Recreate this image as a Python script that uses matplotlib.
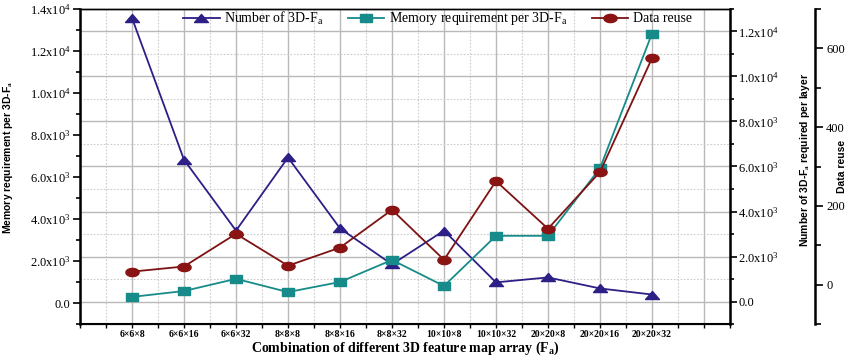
import numpy as np
import matplotlib
matplotlib.use("Agg")
import matplotlib.pyplot as plt
from matplotlib.path import Path
from matplotlib import font_manager as fm

categories = ["6×6×8", "6×6×16", "6×6×32", "8×8×8", "8×8×16", "8×8×32",
              "10×10×8", "10×10×32", "20×20×8", "20×20×16", "20×20×32"]
num_3dfa = [12600, 6300, 3150, 6400, 3250, 1650, 3150, 850, 1070, 580, 310]
memory_req = [290, 570, 1150, 520, 1000, 2050, 810, 3200, 3200, 6420, 12830]
data_reuse = [33, 46, 129, 48, 94, 190, 63, 263, 142, 286, 575]

left_ticks = [0, 2000, 4000, 6000, 8000, 10000, 12000, 14000]
left_labels = ["0.0", "2.0x10$^3$", "4.0x10$^3$", "6.0x10$^3$", "8.0x10$^3$",
               "1.0x10$^4$", "1.2x10$^4$", "1.4x10$^4$"]
r1_ticks = [0, 2000, 4000, 6000, 8000, 10000, 12000]
r1_labels = ["0.0", "2.0x10$^3$", "4.0x10$^3$", "6.0x10$^3$", "8.0x10$^3$",
             "1.0x10$^4$", "1.2x10$^4$"]
r2_ticks = [0, 200, 400, 600]

names = set(f.name for f in fm.fontManager.ttflist)
serif = "Liberation Serif" if "Liberation Serif" in names else "DejaVu Serif"
narrow = "Liberation Sans Narrow" if "Liberation Sans Narrow" in names else (
    "Liberation Sans" if "Liberation Sans" in names else "DejaVu Sans")

plt.rcParams["font.family"] = [serif, "DejaVu Sans"]
plt.rcParams["mathtext.fontset"] = "custom"
plt.rcParams["mathtext.rm"] = serif
plt.rcParams["mathtext.it"] = serif + ":italic"
plt.rcParams["mathtext.bf"] = serif + ":bold"

navy = "#2c1f86"
teal = "#178b89"
red = "#7e1212"

tri = Path([(-1, -0.58), (1, -0.58), (0, 0.58), (-1, -0.58)],
           [Path.MOVETO, Path.LINETO, Path.LINETO, Path.CLOSEPOLY])
sq = Path([(-1, -0.62), (1, -0.62), (1, 0.62), (-1, 0.62), (-1, -0.62)],
          [Path.MOVETO, Path.LINETO, Path.LINETO, Path.LINETO, Path.CLOSEPOLY])
th = np.linspace(0, 2 * np.pi, 41)
ell = Path(np.column_stack([np.cos(th), 0.62 * np.sin(th)]), closed=True)

fig = plt.figure(figsize=(8.5, 3.56), dpi=100)
rect = [80 / 850, 1 - 324 / 356, 650 / 850, 315 / 356]
ax = fig.add_axes(rect)          # memory (left)
ax1 = ax.twinx()                 # number of 3D-Fa (right)
ax2 = ax.twinx()                 # data reuse (far right)

ax1.set_zorder(0)
ax.set_zorder(1)
ax2.set_zorder(2)
ax.patch.set_visible(False)
ax2.patch.set_visible(False)
ax1.patch.set_visible(True)
ax1.patch.set_facecolor("white")

x = np.arange(1, len(categories) + 1)

l1, = ax1.plot(x, num_3dfa, color=navy, lw=1.3, marker=tri, ms=10,
               mfc=navy, mec=navy, label="Number of 3D-F$_\\mathrm{a}$")
l2, = ax.plot(x, memory_req, color=teal, lw=1.3, marker=sq, ms=8.5,
              mfc=teal, mec=teal, label="Memory requirement per 3D-F$_\\mathrm{a}$")
l3, = ax2.plot(x, data_reuse, color=red, lw=1.3, marker=ell, ms=9.5,
               mfc="#8a1414", mec="#8a1414", label="Data reuse")

# x axis
ax.set_xlim(0, 12.5)
ax.set_xticks(np.arange(0, 13))
ax.set_xticklabels([""] + categories + [""], fontsize=7, fontweight="bold")
ax.set_xticks(np.arange(0.5, 12.6, 1.0), minor=True)
ax.tick_params(axis="x", which="both", direction="out", length=3, width=1, pad=1)
ax.set_xlabel("Combination of different 3D feature map array (F$_\\mathbf{a}$)",
              fontsize=10, fontweight="bold", labelpad=1)

# left axis
ax.set_ylim(-1000, 14000)
ax.set_yticks(left_ticks)
ax.set_yticklabels(left_labels, fontsize=9)
ax.set_yticks(np.arange(-1000, 14001, 2000), minor=True)
ax.tick_params(axis="y", which="major", direction="out", length=5, width=1.2, pad=2)
ax.tick_params(axis="y", which="minor", direction="out", length=3, width=1.2)
ax.set_ylabel("Memory requirement per 3D-F$_\\mathbf{a}$", family=narrow,
              fontsize=7.5, fontweight="bold")
ax.yaxis.set_label_coords(-0.1, 0.53)

# right axis 1
ax1.set_ylim(-1000, 13000)
ax1.set_yticks(r1_ticks)
ax1.set_yticklabels(r1_labels, fontsize=9)
ax1.set_yticks(np.arange(-1000, 13001, 2000), minor=True)
ax1.tick_params(axis="y", which="major", direction="out", length=5, width=1.2, pad=1)
ax1.tick_params(axis="y", which="minor", direction="out", length=3, width=1.2)
ax1.set_ylabel("Number of 3D-F$_\\mathbf{a}$ required per layer", family=narrow,
               fontsize=7.5, fontweight="bold")
ax1.yaxis.set_label_coords(1.105, 0.52)

# grid on ax1 (bottom layer)
ax1.xaxis.set_visible(True)
ax1.grid(True, which="major", color="#b9b9b9", lw=1.0, ls="-")
ax1.grid(True, which="minor", color="#cccccc", lw=0.8, ls=(0, (1.5, 1.5)))
ax1.tick_params(axis="x", which="both", length=0, labelbottom=False, labeltop=False)

# right axis 2
ax2.spines["right"].set_position(("axes", (815 - 80) / 650))
ax2.set_ylim(-100, 700)
ax2.set_yticks(r2_ticks)
ax2.set_yticklabels([str(t) for t in r2_ticks], fontsize=9)
ax2.set_yticks(np.arange(-100, 701, 200), minor=True)
ax2.tick_params(axis="y", which="major", direction="out", length=6, width=1.2, pad=2)
ax2.tick_params(axis="y", which="minor", direction="out", length=4, width=1.2)
ax2.set_ylabel("Data reuse", family=narrow, fontsize=7.5, fontweight="bold")
ax2.yaxis.set_label_coords(1.165, 0.5)
for s in ["top", "bottom", "left"]:
    ax2.spines[s].set_visible(False)
ax2.spines["right"].set_linewidth(1.8)

for a in (ax, ax1):
    a.spines["top"].set_linewidth(1.0)
ax.spines["left"].set_linewidth(1.8)
ax.spines["bottom"].set_linewidth(1.5)
ax1.spines["right"].set_linewidth(1.8)

leg = ax2.legend(handles=[l1, l2, l3], loc="upper center", ncol=3, frameon=False,
                 fontsize=10, bbox_to_anchor=(0.55, 1.025), handlelength=2.6,
                 columnspacing=1.8, handletextpad=0.3, borderaxespad=0.2)

fig.savefig("out.png", dpi=100)
